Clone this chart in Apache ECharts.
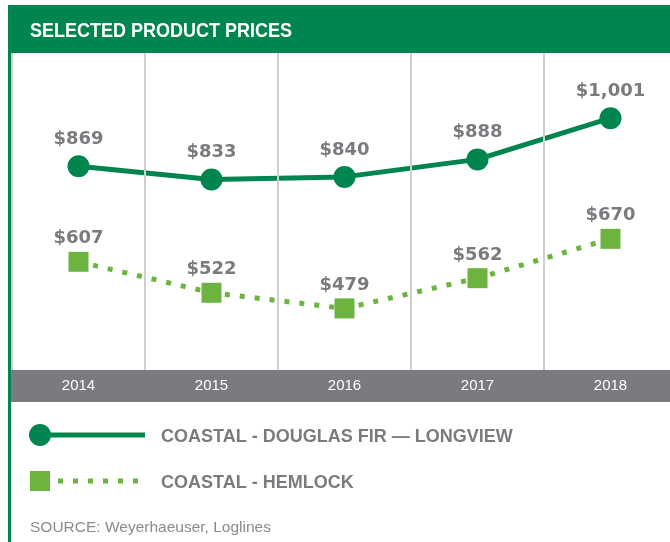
<!DOCTYPE html>
<html>
<head>
<meta charset="utf-8">
<script src="https://cdn.jsdelivr.net/npm/echarts@6/dist/echarts.min.js"></script>
<style>
  html, body { margin: 0; padding: 0; background: #fff; }
  #chart { width: 670px; height: 542px; }
</style>
</head>
<body>
<div id="chart"></div>
<script>
var years = ['2014', '2015', '2016', '2017', '2018'];
var douglasFir = [869, 833, 840, 888, 1001];
var hemlock = [607, 522, 479, 562, 670];
var seriesNames = ['COASTAL - DOUGLAS FIR \u2014 LONGVIEW', 'COASTAL - HEMLOCK'];

var darkGreen = '#00854f';
var lightGreen = '#6db33f';
var grey = '#7a7b7f';
var font = '"Liberation Sans", Arial, sans-serif';
var heavy = '"DejaVu Sans", "Liberation Sans", sans-serif';

var myChart = echarts.init(document.getElementById('chart'));

var option = {
    animation: false,
    backgroundColor: '#fff',
    grid: {
        left: 12,
        width: 665,
        top: 53,
        bottom: 172,
        outerBoundsMode: 'none'
    },
    xAxis: {
        type: 'category',
        data: years,
        boundaryGap: true,
        z: 10,
        axisLine: { show: false },
        axisTick: { show: false },
        axisLabel: {
            color: '#fff',
            fontFamily: font,
            fontSize: 15,
            margin: 8
        },
        splitLine: {
            show: true,
            lineStyle: { color: '#cfcfcf', width: 2 }
        }
    },
    yAxis: {
        type: 'value',
        min: 310,
        max: 1180,
        show: false,
        splitLine: { show: false }
    },
    graphic: [
        // header band
        { type: 'rect', left: 8, top: 5, shape: { width: 662, height: 48 }, style: { fill: darkGreen }, z: 1 },
        { type: 'text', x: 30, y: 21, scaleX: 0.9, style: { text: 'SELECTED PRODUCT PRICES', fill: '#fff', font: 'bold 20px ' + font }, z: 2 },
        // left border
        { type: 'rect', left: 8, top: 53, shape: { width: 3, height: 489 }, style: { fill: darkGreen }, z: 3 },
        // grey axis band
        { type: 'rect', left: 11, top: 370, shape: { width: 659, height: 32 }, style: { fill: grey }, z: 1 },
        // legend: douglas fir
        { type: 'line', shape: { x1: 40, y1: 435, x2: 145, y2: 435 }, style: { stroke: darkGreen, lineWidth: 5 }, z: 2 },
        { type: 'circle', shape: { cx: 40, cy: 435, r: 11 }, style: { fill: darkGreen }, z: 3 },
        { type: 'text', left: 161, top: 428, style: { text: seriesNames[0], fill: grey, font: 'bold 18px ' + font }, z: 2 },
        // legend: hemlock
        { type: 'line', shape: { x1: 58, y1: 481, x2: 145, y2: 481 }, style: { stroke: lightGreen, lineWidth: 5, lineDash: [5, 10] }, z: 2 },
        { type: 'rect', left: 30, top: 471, shape: { width: 20, height: 20 }, style: { fill: lightGreen }, z: 3 },
        { type: 'text', left: 161, top: 474, style: { text: seriesNames[1], fill: grey, font: 'bold 18px ' + font }, z: 2 },
        // source
        { type: 'text', left: 30, top: 520, style: { text: 'SOURCE: Weyerhaeuser, Loglines', fill: '#8a8b8f', font: '15.5px ' + font }, z: 2 }
    ],
    series: [
        {
            name: seriesNames[0],
            type: 'line',
            data: douglasFir,
            symbol: 'circle',
            symbolSize: 22,
            itemStyle: { color: darkGreen },
            lineStyle: { color: darkGreen, width: 5 },
            label: {
                show: true,
                position: 'top',
                distance: 7,
                color: grey,
                fontFamily: heavy,
                fontWeight: 'bold',
                fontSize: 18,
                formatter: function (p) { return '$' + p.value.toLocaleString('en-US'); }
            },
            z: 5
        },
        {
            name: seriesNames[1],
            type: 'line',
            data: hemlock,
            symbol: 'rect',
            symbolSize: 20,
            itemStyle: { color: lightGreen },
            lineStyle: { color: lightGreen, width: 5, type: [5, 10] },
            label: {
                show: true,
                position: 'top',
                distance: 4,
                color: grey,
                fontFamily: heavy,
                fontWeight: 'bold',
                fontSize: 18,
                formatter: function (p) { return '$' + p.value; }
            },
            z: 5
        }
    ]
};

myChart.setOption(option);
</script>
</body>
</html>
